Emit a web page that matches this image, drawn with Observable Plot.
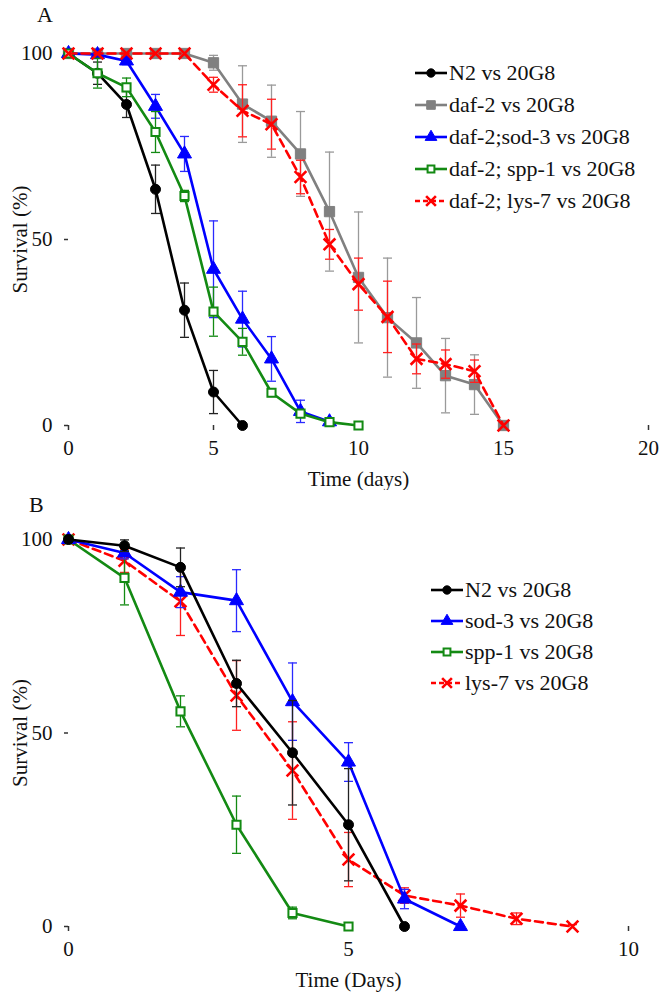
<!DOCTYPE html>
<html><head><meta charset="utf-8">
<script src="https://cdn.jsdelivr.net/npm/d3@7"></script>
<script src="https://cdn.jsdelivr.net/npm/@observablehq/plot@0.6"></script>
<style>
body{margin:0;background:#fff;}
#wrap{position:relative;width:664px;height:998px;font-family:'Liberation Serif','Times New Roman',Times,'DejaVu Serif',serif;color:#111;overflow:hidden;}
#wrap svg text{font-family:'Liberation Serif','Times New Roman',Times,'DejaVu Serif',serif;}
.panel{position:absolute;left:0;}
.letter{position:absolute;font-size:22px;}
.legend{position:absolute;font-size:22px;}
.row{position:absolute;left:0;white-space:nowrap;height:24px;line-height:24px;}
.row svg{position:absolute;left:0;top:0;}
.row span{position:absolute;top:0;}
</style></head><body><div id="wrap"></div>
<script>
// ---------- Panel A data ----------
const seriesA = ["N2 vs 20G8","daf-2 vs 20G8","daf-2;sod-3 vs 20G8","daf-2; spp-1 vs 20G8","daf-2; lys-7 vs 20G8"];
const n2A     = [100,94.7,86.3,63.5,31,9,0];
const n2AErr  = [0,3,3.5,6.5,7.3,5.8,0];
const daf2A    = [100,100,100,100,100,97.5,86.4,81.8,73,57.5,39.8,29,22.2,13.4,11,0];
const daf2AErr = [0,0,0,0,0,2,10.3,9.7,11.4,16,17.6,16,12.2,10,8,0];
const sod3A    = [100,99.7,98,85.8,73,42,28.6,17.9,3.8,1];
const sod3AErr = [0,0.5,1,3.2,4.7,13,7.5,6,3,0.5];
const spp1A    = [100,94.7,90.9,78.9,61.7,30.6,22.5,8.8,3.2,0.9,0];
const spp1AErr = [0,4,2.5,5.5,1.5,6.6,3.6,1,0.5,0.3,0];
const lys7A    = [100,100,100,100,100,91.6,84.6,81,66.8,48.7,38,29.2,17.9,16.5,14.6,0];
const lys7AErr = [0,0,0,0,0,2,7,6.7,4.5,4,7,9.6,4,3.8,3,0];
const xTicksA = [0,5,10,15,20];
const yTicks = [0,50,100];

// ---------- Panel B data ----------
const seriesB = ["N2 vs 20G8","sod-3 vs 20G8","spp-1 vs 20G8","lys-7 vs 20G8"];
const n2B     = [100,98.4,92.8,62.8,44.9,26.3,0];
const n2BErr  = [0,1.5,5,6,13.5,14.5,0];
const sod3B    = [100,96.5,86.4,84.2,58.1,42.5,7.1,0];
const sod3BErr = [0,1.5,4,8,10,5,2.5,0];
const spp1B    = [100,90.1,55.6,26.3,3.5,0];
const spp1BErr = [0,7,4,7.4,1.5,0];
const lys7B    = [100,94.5,84,59.7,40.3,17.3,8,5.4,2,0];
const lys7BErr = [0,3,8.8,9,12.6,7,2,3,1.5,0.5];
const xTicksB = [0,5,10];

// ---------- styles ----------
const FONT = "'Liberation Serif','Times New Roman',Times,'DejaVu Serif',serif";
const styles = {
  n2:   {color:"#000000", errColor:"#222", symbol:"circle",   r:5,   fill:"#000000", stroke:"#000000", sw:1,   dash:null},
  daf2: {color:"#808080", errColor:"#9a9a9a", symbol:"square",   r:5.8, fill:"#808080", stroke:"#808080", sw:1,   dash:null},
  sod3: {color:"#0000ff", errColor:"#2a2aff", symbol:"triangle", r:5.2, fill:"#0000ff", stroke:"#0000ff", sw:1,   dash:null},
  spp1: {color:"#138a13", errColor:"#138a13", symbol:"square",   r:4.6, fill:"#ffffff", stroke:"#138a13", sw:2,   dash:null},
  lys7: {color:"#ff0000", errColor:"#ff2020", symbol:"times",    r:5.4, fill:"none",    stroke:"#ff0000", sw:2.6, dash:"8,5"}
};

const cap = {draw(ctx, size){ const w = Math.sqrt(size/Math.PI); ctx.moveTo(-w,0); ctx.lineTo(w,0); }};

function rows(vals, errs){ return vals.map((v,i)=>({x:i, y:v, e:errs[i]})); }

function seriesMarks(data, st){
  const withErr = data.filter(d=>d.e>0);
  return [
    Plot.ruleX(withErr, {x:"x", y1:d=>Math.max(0,d.y-d.e), y2:d=>d.y+d.e, stroke:st.errColor, strokeWidth:1.3}),
    Plot.dot(withErr, {x:"x", y:d=>d.y+d.e, symbol:cap, r:4.5, stroke:st.errColor, strokeWidth:1.3}),
    Plot.dot(withErr.filter(d=>d.y-d.e>0), {x:"x", y:d=>d.y-d.e, symbol:cap, r:4.5, stroke:st.errColor, strokeWidth:1.3}),
    Plot.line(data, {x:"x", y:"y", stroke:st.color, strokeWidth:2.6, strokeDasharray:st.dash}),
    Plot.dot(data, {x:"x", y:"y", symbol:st.symbol, r:st.r, fill:st.fill, stroke:st.stroke, strokeWidth:st.sw})
  ];
}

function chart({height, mt, mb, mr, xmax, xticks, xlabel, list}){
  return Plot.plot({
    width:664, height, marginTop:mt, marginBottom:mb, marginLeft:68, marginRight:mr,
    style:{fontFamily:FONT, fontSize:"21px", color:"#111", background:"white", overflow:"visible"},
    x:{domain:[0,xmax]},
    y:{domain:[0,100]},
    marks:[
      Plot.axisX({ticks:xticks, tickSize:5, tickPadding:10, line:true, stroke:"#333", strokeWidth:1.5, label:xlabel, labelAnchor:"center", labelOffset:60, labelArrow:"none", fill:"#111"}),
      Plot.axisY({ticks:yTicks, tickSize:4, tickPadding:12, line:true, stroke:"#333", strokeWidth:1.5, label:"Survival (%)", labelAnchor:"center", labelOffset:56, labelArrow:"none", fill:"#111"}),
      ...list.flatMap(([vals, errs, st]) => seriesMarks(rows(vals, errs), st))
    ]
  });
}

const wrap = document.getElementById("wrap");

const chartA = chart({height:490, mt:53, mb:65, mr:16, xmax:20, xticks:xTicksA, xlabel:"Time (days)",
  list:[[n2A,n2AErr,styles.n2],[daf2A,daf2AErr,styles.daf2],[sod3A,sod3AErr,styles.sod3],[spp1A,spp1AErr,styles.spp1],[lys7A,lys7AErr,styles.lys7]]});
const pA = document.createElement("div"); pA.className="panel"; pA.style.top="0px"; pA.appendChild(chartA); wrap.appendChild(pA);

const chartB = chart({height:508, mt:49, mb:72, mr:36, xmax:10, xticks:xTicksB, xlabel:"Time (Days)",
  list:[[lys7B,lys7BErr,styles.lys7],[spp1B,spp1BErr,styles.spp1],[sod3B,sod3BErr,styles.sod3],[n2B,n2BErr,styles.n2]]});
const pB = document.createElement("div"); pB.className="panel"; pB.style.top="490px"; pB.appendChild(chartB); wrap.appendChild(pB);

// panel letters
function letter(t, x, y){ const d=document.createElement("div"); d.className="letter"; d.textContent=t; d.style.left=x+"px"; d.style.top=y+"px"; wrap.appendChild(d); }
letter("A", 37, 2);
letter("B", 29, 492);

// legends
function legend(names, stylesList, left, top, gap){
  const lg = document.createElement("div"); lg.className="legend"; lg.style.left=left+"px"; lg.style.top=top+"px";
  names.forEach((n,i)=>{
    const st = stylesList[i];
    const row = document.createElement("div"); row.className="row"; row.style.top=(i*gap)+"px";
    const sym = d3.symbol(d3["symbol"+st.symbol[0].toUpperCase()+st.symbol.slice(1)], Math.PI*st.r*st.r*0.7)();
    row.innerHTML = `<svg width="36" height="24"><line x1="1" x2="33" y1="12" y2="12" stroke="${st.color}" stroke-width="2.6" ${st.dash?'stroke-dasharray="5,3"':''}/><path d="${sym}" transform="translate(17,12)" fill="${st.fill}" stroke="${st.stroke}" stroke-width="${st.sw}"/></svg><span style="left:35px">${n}</span>`;
    lg.appendChild(row);
  });
  wrap.appendChild(lg);
}
legend(seriesA, [styles.n2,styles.daf2,styles.sod3,styles.spp1,styles.lys7], 414, 61, 32);
legend(seriesB, [styles.n2,styles.sod3,styles.spp1,styles.lys7], 430, 578, 31);
</script></body></html>
